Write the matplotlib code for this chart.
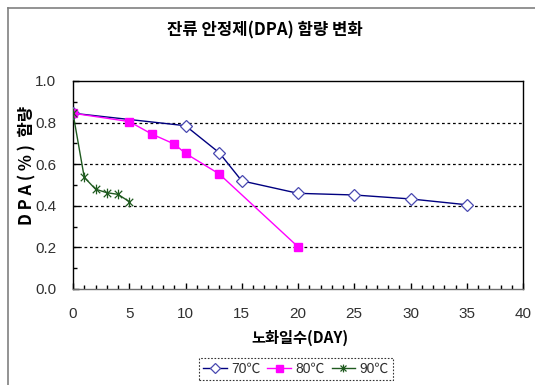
import matplotlib
matplotlib.use("Agg")
import matplotlib.pyplot as plt
from matplotlib.lines import Line2D
from matplotlib.path import Path
from matplotlib.ticker import MultipleLocator
import matplotlib.font_manager as fm

plt.rcParams['font.family'] = ['Noto Sans CJK KR', 'DejaVu Sans']

# aging days and DPA content (%) for each temperature
days_70 = [0, 10, 13, 15, 20, 25, 30, 35]
dpa_70 = [0.845, 0.785, 0.655, 0.52, 0.46, 0.452, 0.433, 0.405]

days_80 = [0, 5, 7, 9, 10, 13, 20]
dpa_80 = [0.845, 0.805, 0.745, 0.697, 0.652, 0.553, 0.203]

days_90 = [0, 1, 2, 3, 4, 5]
dpa_90 = [0.845, 0.537, 0.48, 0.463, 0.455, 0.42]

series_labels = ['70℃', '80℃', '90℃']
title = '잔류 안정제(DPA) 함량 변화'
xlabel = '노화일수(DAY)'
ylabel = 'D P A ( % )  함량'

names = {f.name for f in fm.fontManager.ttflist}
tick_family = 'Liberation Sans Narrow' if 'Liberation Sans Narrow' in names else 'Liberation Sans'

# star marker: an X crossed by a vertical bar
star = Path([(-1, -1), (1, 1), (-1, 1), (1, -1), (0, -1.3), (0, 1.3)],
            [Path.MOVETO, Path.LINETO, Path.MOVETO, Path.LINETO, Path.MOVETO, Path.LINETO])

fig = plt.figure(figsize=(5.35, 3.85), dpi=100)
W, H = 535, 385
ax = fig.add_axes([73 / W, 1 - 289 / H, (523 - 73) / W, (289 - 81) / H])

# outer chart frame (left and top edges)
fig.add_artist(Line2D([8 / W, 8 / W], [0, 1 - 8 / H], color='#808080', lw=1.2,
                      transform=fig.transFigure))
fig.add_artist(Line2D([8 / W, 1], [1 - 8 / H, 1 - 8 / H], color='#808080', lw=1.2,
                      transform=fig.transFigure))

ax.plot(days_70, dpa_70, color='#000080', lw=1.0, marker='D', ms=6.5,
        mfc='white', mec='#4848b0', mew=0.9, label=series_labels[0], zorder=4)
ax.plot(days_80, dpa_80, color='#FF00FF', lw=1.0, marker='s', ms=6.3,
        mfc='#FF00FF', mec='#FF00FF', label=series_labels[1], zorder=5)
ax.plot(days_90, dpa_90, color='#1f5a1f', lw=1.0, marker=star, ms=7,
        mec='#1f5a1f', mew=0.9, label=series_labels[2], zorder=6)

ax.set_xlim(0, 40)
ax.set_ylim(0, 1.0)
ax.xaxis.set_major_locator(MultipleLocator(5))
ax.xaxis.set_minor_locator(MultipleLocator(1))
ax.yaxis.set_major_locator(MultipleLocator(0.2))
ax.yaxis.set_minor_locator(MultipleLocator(0.1))
ax.set_yticklabels([f'{v:.1f}' for v in ax.get_yticks()])

for y in [0.2, 0.4, 0.6, 0.8]:
    ax.axhline(y, color='black', lw=0.9, ls=(0, (2.2, 2.2)), zorder=1)

for s in ax.spines.values():
    s.set_color('black')
    s.set_linewidth(1.0)
ax.spines['bottom'].set_color('#707070')

ax.tick_params(axis='both', which='both', direction='in', color='black')
ax.tick_params(axis='both', which='major', length=4, width=1,
               labelsize=11, labelcolor='#303030')
ax.tick_params(axis='x', which='major', pad=13)
ax.tick_params(axis='y', which='major', pad=12)
ax.tick_params(axis='both', which='minor', length=3, width=1)
for lab in ax.get_xticklabels() + ax.get_yticklabels():
    lab.set_family(tick_family)

fig.text(265 / W, 1 - 30 / H, title, ha='center', va='center',
         fontsize=12, fontweight='bold')
fig.text(300 / W, 1 - 338 / H, xlabel, ha='center', va='center',
         fontsize=11, fontweight='bold')
fig.text(27 / W, 1 - 165 / H, ylabel, ha='center', va='center',
         fontsize=12, fontweight='bold', rotation=90)

leg = fig.legend(loc='center', bbox_to_anchor=(296 / W, 1 - 369 / H),
                 ncol=3, frameon=True, fontsize=10, handlelength=1.7,
                 handletextpad=0.3, columnspacing=0.5, borderpad=0.3,
                 fancybox=False, markerscale=0.8)
leg.get_frame().set_edgecolor('black')
leg.get_frame().set_linestyle((0, (1.5, 1.5)))
leg.get_frame().set_linewidth(0.8)
for t in leg.get_texts():
    t.set_family([tick_family, 'Noto Sans CJK KR', 'DejaVu Sans'])
    t.set_color('#303030')

fig.savefig('out.png', dpi=100)
